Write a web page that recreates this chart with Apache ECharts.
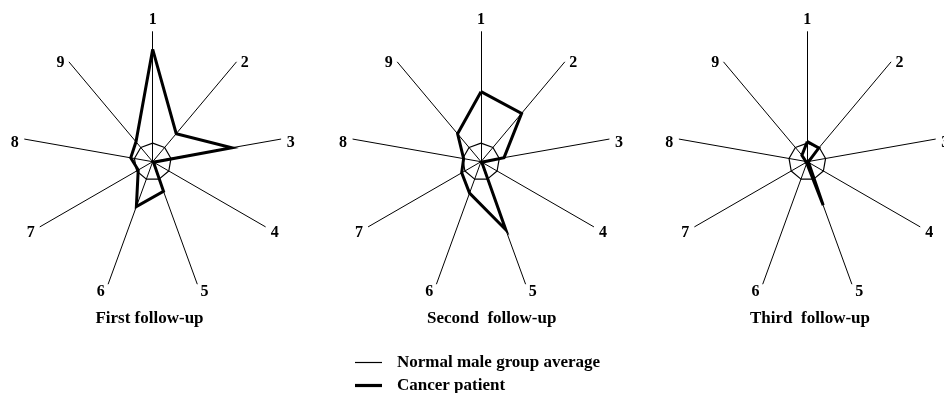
<!DOCTYPE html>
<html>
<head>
<meta charset="utf-8">
<script src="https://cdn.jsdelivr.net/npm/echarts@6/dist/echarts.min.js"></script>
<style>
html,body{margin:0;padding:0;background:#fff;}
#c{width:944px;height:393px;}
</style>
</head>
<body>
<div id="c"></div>
<script>
// Axis (item) labels, in clockwise order starting at the top
const axisLabels = ['1', '2', '3', '4', '5', '6', '7', '8', '9'];
const axisMax = 7;
// Panel titles
const panelTitles = ['First follow-up', 'Second  follow-up', 'Third  follow-up'];
// Normal male group average (same for every panel)
const normalAverage = [1, 1, 1, 1, 1, 1, 1, 1, 1];
// Cancer patient, per follow-up (values for axes 1..9)
const firstFollowUp  = [6.05, 1.97, 4.33, 0.05, 1.70, 2.57, 0.90, 1.20, 1.40];
const secondFollowUp = [3.77, 3.40, 1.26, 0.05, 3.90, 1.80, 1.20, 0.95, 1.96];
const thirdFollowUp  = [1.08, 0.96, 0.08, 0.08, 2.50, 0.08, 0.08, 0.08, 0.45];
const legendNames = ['Normal male group average', 'Cancer patient'];

const patient = [firstFollowUp, secondFollowUp, thirdFollowUp];
const centers = [[152.7, 161.7], [481, 161.7], [807.3, 161.7]];
const titleX = [149.5, 491.7, 810];

// ECharts radar runs counter-clockwise; reorder so that labels run clockwise
function cw(arr) { return [arr[0]].concat(arr.slice(1).reverse()); }

const font = { fontFamily: 'Liberation Serif', fontWeight: 'bold', color: '#000' };

const radar = centers.map(c => ({
  center: c,
  radius: 130,
  startAngle: 90,
  nameGap: 4,
  splitNumber: 1,
  indicator: cw(axisLabels).map(n => ({ name: n, min: 0, max: axisMax })),
  axisName: Object.assign({
    fontSize: 16,
    formatter: v => '{a|' + v + '}',
    rich: { a: Object.assign({ fontSize: 16, padding: [8, 2, 0, 2] }, font) }
  }, font),
  axisLine: { lineStyle: { color: '#000', width: 1 } },
  splitLine: { show: false },
  splitArea: { show: false },
  axisTick: { show: false },
  axisLabel: { show: false }
}));

const series = [];
patient.forEach((d, i) => {
  series.push({
    type: 'radar', radarIndex: i, name: legendNames[0], symbol: 'none', silent: true,
    lineStyle: { color: '#000', width: 1.2 }, itemStyle: { color: '#000' },
    data: [{ name: legendNames[0], value: cw(normalAverage) }], z: 2
  });
  series.push({
    type: 'radar', radarIndex: i, name: legendNames[1], symbol: 'none', silent: true,
    lineStyle: { color: '#000', width: 3, join: 'miter' }, itemStyle: { color: '#000' },
    data: [{ name: legendNames[1], value: cw(d) }], z: 3
  });
});

const chart = echarts.init(document.getElementById('c'), null, { renderer: 'canvas' });
chart.setOption({
  animation: false,
  backgroundColor: '#fff',
  title: panelTitles.map((t, i) => ({
    text: t, left: titleX[i], top: 310, textAlign: 'center', padding: 0,
    textStyle: Object.assign({ fontSize: 17 }, font)
  })),
  legend: [
    { data: [legendNames[0]], left: 355, top: 354, padding: 0, icon: 'rect', itemWidth: 27, itemHeight: 1.2,
      itemGap: 0, selectedMode: false, textStyle: Object.assign({ fontSize: 17, padding: [0, 0, 0, 10] }, font),
      itemStyle: { color: '#000' } },
    { data: [legendNames[1]], left: 355, top: 377, padding: 0, icon: 'rect', itemWidth: 27, itemHeight: 3.2,
      itemGap: 0, selectedMode: false, textStyle: Object.assign({ fontSize: 17, padding: [0, 0, 0, 10] }, font),
      itemStyle: { color: '#000' } }
  ],
  radar: radar,
  series: series
});
</script>
</body>
</html>
